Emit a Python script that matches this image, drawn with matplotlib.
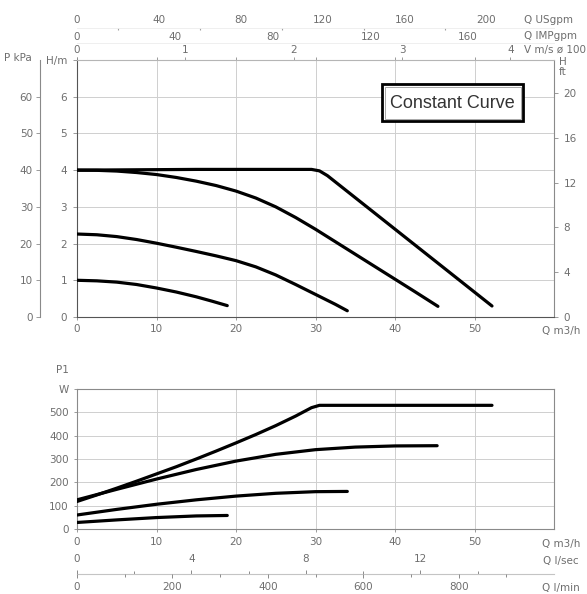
import matplotlib.pyplot as plt
from matplotlib.patches import Rectangle

# pump head curves, H in m against Q in m3/h
q_max = [0, 15, 29.5, 30.5, 31.5, 52.2]
h_max = [4.0, 4.02, 4.02, 3.98, 3.85, 0.3]
q_hi = [0, 2.5, 5, 7.5, 10, 12.5, 15, 17.5, 20, 22.5, 25, 27.5, 30, 32.5, 35, 37.5, 40, 42.5, 45.4]
h_hi = [4.0, 3.995, 3.975, 3.935, 3.88, 3.80, 3.70, 3.58, 3.43, 3.24, 3.00, 2.71, 2.39, 2.05, 1.71,
        1.37, 1.03, 0.69, 0.29]
q_mid = [0, 2.5, 5, 7.5, 10, 12.5, 15, 17.5, 20, 22.5, 25, 27.5, 30, 32.5, 34]
h_mid = [2.26, 2.24, 2.19, 2.11, 2.01, 1.90, 1.785, 1.665, 1.535, 1.365, 1.145, 0.885, 0.615,
         0.345, 0.17]
q_lo = [0, 2.5, 5, 7.5, 10, 12.5, 15, 17, 18.9]
h_lo = [1.0, 0.985, 0.95, 0.885, 0.79, 0.68, 0.55, 0.43, 0.31]

# power input P1 in W
pq_max = [0, 2.5, 5, 7.5, 10, 12.5, 15, 17.5, 20, 22.5, 25, 27.5, 29.5, 30.5, 52.2]
p_max = [118, 146, 175, 205, 236, 267, 300, 334, 369, 405, 443, 484, 520, 530, 530]
pq_hi = [0, 5, 10, 15, 20, 25, 30, 35, 40, 45.3]
p_hi = [125, 170, 214, 255, 291, 320, 340, 351, 356, 357]
pq_mid = [0, 5, 10, 15, 20, 25, 30, 34]
p_mid = [60, 84, 106, 125, 141, 153, 160, 161]
pq_lo = [0, 5, 10, 15, 18.9]
p_lo = [28, 39, 49, 56, 58]

# unit scales as drawn on the sheet (m3/h per unit)
usgpm_f = 0.2575
impgpm_f = 0.3075
vel_f = 13.63
lps_f = 3.6
lpm_f = 0.06

W, H = 587, 594
def box(l, t, r, b):
    return [l / W, 1 - b / H, (r - l) / W, (b - t) / H]

tc = '#8a8a8a'
lc = '#6e6e6e'
fs = 7.5
gridc = '#cfcfcf'

fig = plt.figure(figsize=(W / 100, H / 100), dpi=100)
ax1 = fig.add_axes(box(77, 60, 554, 317))
ax2 = fig.add_axes(box(77, 389, 554, 529))

# ---- head chart
for q, h in [(q_max, h_max), (q_hi, h_hi), (q_mid, h_mid), (q_lo, h_lo)]:
    ax1.plot(q, h, color='black', lw=2.3, solid_capstyle='round', solid_joinstyle='round', zorder=3)
ax1.set_xlim(0, 60)
ax1.set_ylim(0, 7)
ax1.set_xticks([0, 10, 20, 30, 40, 50])
ax1.set_yticks(range(8))
ax1.set_yticklabels([str(i) for i in range(7)] + ['H/m'])
ax1.grid(True, color=gridc, lw=0.7)
ax1.tick_params(colors=tc, labelcolor=lc, labelsize=fs, length=3, width=0.6, pad=2, top=True)
ax1.tick_params(axis='x', length=2, pad=3)
ax1.tick_params(axis='y', pad=4)
for s in ['left', 'bottom']:
    ax1.spines[s].set_color('#555555')
ax1.spines['right'].set_color('#8a8a8a')
ax1.spines['top'].set_color('#b5b5b5')
for s in ax1.spines.values():
    s.set_linewidth(0.8)

# kPa on the far left
kpa = ax1.secondary_yaxis(-0.078, functions=(lambda h: h * 10, lambda p: p / 10))
kpa.set_yticks([0, 10, 20, 30, 40, 50, 60])
kpa.tick_params(colors=tc, labelcolor=lc, labelsize=fs, length=3, width=0.6, pad=2)
kpa.spines['left'].set_color('#8a8a8a')
kpa.spines['left'].set_linewidth(0.8)

# feet on the right
ft = ax1.secondary_yaxis('right', functions=(lambda h: h / 0.3048, lambda f: f * 0.3048))
ft.set_yticks([0, 4, 8, 12, 16, 20])
ft.tick_params(colors=tc, labelcolor=lc, labelsize=fs, length=3, width=0.6, pad=4)
ft.spines['right'].set_visible(False)

# velocity axis on the frame top
vel = ax1.secondary_xaxis('top', functions=(lambda q: q / vel_f, lambda v: v * vel_f))
vel.set_xticks([0, 1, 2, 3, 4])
vel.tick_params(colors=tc, labelcolor=lc, labelsize=fs, length=2.5, width=0.6, pad=1.0)
vel.spines['top'].set_visible(False)

imp = ax1.secondary_xaxis(1.068, functions=(lambda q: q / impgpm_f, lambda g: g * impgpm_f))
imp.set_xticks([0, 40, 80, 120, 160])
imp.tick_params(colors=tc, labelcolor=lc, labelsize=fs, length=0, pad=0.5)
imp.spines['top'].set_color('#ececec')
imp.spines['top'].set_linewidth(0.6)

usg = ax1.secondary_xaxis(1.125, functions=(lambda q: q / usgpm_f, lambda g: g * usgpm_f))
usg.set_xticks([0, 40, 80, 120, 160, 200])
usg.set_xticks([20, 60, 100, 140, 180], minor=True)
usg.tick_params(colors=tc, labelcolor=lc, labelsize=fs, length=0, pad=2.0)
usg.tick_params(which='minor', colors='#a0a0a0', length=1.5, width=0.8, direction='in')
usg.spines['top'].set_color('#ececec')
usg.spines['top'].set_linewidth(0.6)

def ftext(x, y, s, **kw):
    kw.setdefault('fontsize', fs)
    kw.setdefault('color', lc)
    fig.text(x / W, 1 - y / H, s, **kw)

ftext(524, 20, 'Q USgpm', ha='left', va='center')
ftext(524, 36, 'Q IMPgpm', ha='left', va='center')
ftext(524, 50, 'V m/s ø 100', ha='left', va='center')
ftext(563, 67, 'H\nft', ha='center', va='center', linespacing=0.9)
ftext(4, 58, 'P kPa', ha='left', va='center')
ftext(561, 331, 'Q m3/h', ha='center', va='center')

# title box
fig.add_artist(Rectangle((382 / W, 1 - 121 / H), 141 / W, 37 / H, transform=fig.transFigure,
                         facecolor='white', edgecolor='black', lw=2.0, zorder=5))
fig.add_artist(Rectangle((384.5 / W, 1 - 118.5 / H), 136 / W, 32 / H, transform=fig.transFigure,
                         facecolor='none', edgecolor='#9a9a9a', lw=0.6, zorder=6))
fig.text(452 / W, 1 - 103 / H, 'Constant Curve', ha='center', va='center', fontsize=13,
         color='#333333', zorder=7, family=['Liberation Sans', 'DejaVu Sans'])

# ---- power chart
for q, p in [(pq_max, p_max), (pq_hi, p_hi), (pq_mid, p_mid), (pq_lo, p_lo)]:
    ax2.plot(q, p, color='black', lw=2.3, solid_capstyle='round', solid_joinstyle='round', zorder=3)
ax2.set_xlim(0, 60)
ax2.set_ylim(0, 600)
ax2.set_xticks([0, 10, 20, 30, 40, 50])
ax2.set_yticks([0, 100, 200, 300, 400, 500, 600])
ax2.set_yticklabels(['0', '100', '200', '300', '400', '500', 'W'])
ax2.grid(True, color=gridc, lw=0.7)
ax2.tick_params(colors=tc, labelcolor=lc, labelsize=fs, length=2, width=0.6, pad=4)
for s in ax2.spines.values():
    s.set_color('#8a8a8a')
    s.set_linewidth(0.8)
ftext(62, 370, 'P1', ha='center', va='center')
ftext(561, 544, 'Q m3/h', ha='center', va='center')

# flow scales under the power chart
loc = (529 - 574) / 140
lps = ax2.secondary_xaxis(loc, functions=(lambda q: q / lps_f, lambda v: v * lps_f))
lps.set_alignment('top')
lps.set_xticks([0, 4, 8, 12])
lps.set_xticks([2, 6, 10, 14], minor=True)
lps.tick_params(colors=tc, labelcolor=lc, labelsize=fs, length=3, width=0.7, pad=4)
lps.tick_params(which='minor', colors=tc, length=2.2, width=0.7)
lps.spines['top'].set_color('#c4c4c4')
lps.spines['top'].set_linewidth(0.8)

lpm = ax2.secondary_xaxis(loc, functions=(lambda q: q / lpm_f, lambda v: v * lpm_f))
lpm.set_xticks([0, 200, 400, 600, 800])
lpm.set_xticks([100, 300, 500, 700, 900], minor=True)
lpm.tick_params(colors=tc, labelcolor=lc, labelsize=fs, length=3, width=0.7, pad=3)
lpm.tick_params(which='minor', colors=tc, length=2.2, width=0.7)
lpm.spines['bottom'].set_visible(False)
ftext(561, 561, 'Q l/sec', ha='center', va='center')
ftext(561, 588, 'Q l/min', ha='center', va='center')

fig.savefig('out.png', dpi=100)
